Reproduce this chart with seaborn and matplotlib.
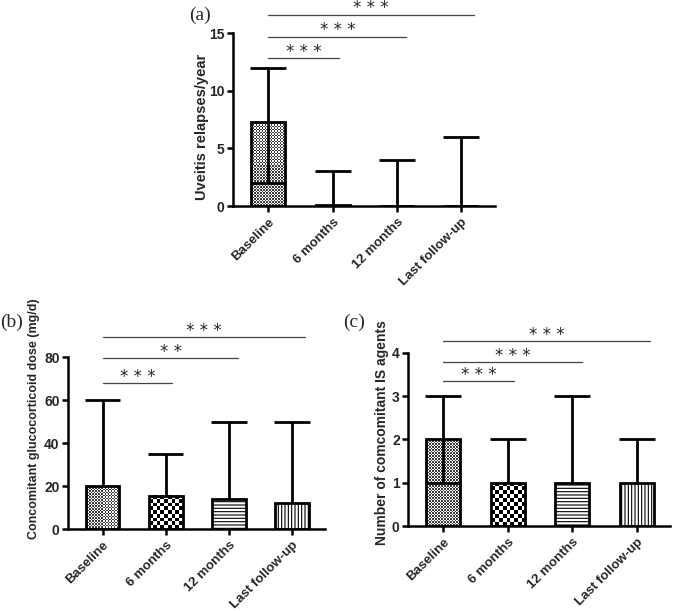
import numpy as np
import pandas as pd
import matplotlib
matplotlib.use("Agg")
import matplotlib.pyplot as plt
import seaborn as sns

categories = ["Baseline", "6 months", "12 months", "Last follow-up"]

# (a) uveitis relapses/year
relapse_mean = [7.3, 0.1, 0.0, 0.0]
relapse_low = [2, None, None, None]
relapse_high = [12, 3, 4, 6]

# (b) concomitant glucocorticoid dose (mg/d)
gc_mean = [20, 15.5, 13.8, 12]
gc_low = [None, None, None, None]
gc_high = [60, 35, 50, 50]

# (c) number of concomitant IS agents
is_mean = [2, 1, 1, 1]
is_low = [1, None, None, None]
is_high = [3, 2, 3, 2]

sig_stars_a = ["***", "***", "***"]
sig_stars_b = ["***", "**", "***"]
sig_stars_c = ["***", "***", "***"]

sns.set_theme(style="ticks")
plt.rcParams["font.family"] = ["Liberation Sans", "DejaVu Sans"]
plt.rcParams["hatch.linewidth"] = 0.8

fig = plt.figure(figsize=(6.74, 6.11), dpi=100)


def checker(ax, bar, cell_px, vmax):
    # fill a bar with a checkerboard clipped to its outline
    x0, y0, w, h = bar.get_x(), bar.get_y(), bar.get_width(), bar.get_height()
    if h <= 0:
        return
    p0 = ax.transData.transform((x0, y0))
    p1 = ax.transData.transform((x0 + w, y0 + h))
    nx = max(1, int(round(abs(p1[0] - p0[0]) / cell_px)))
    ny = max(1, int(round(abs(p1[1] - p0[1]) / cell_px)))
    img = np.indices((ny, nx)).sum(axis=0) % 2
    ax.imshow(img, cmap="gray_r", vmin=0, vmax=vmax, extent=(x0, x0 + w, y0, y0 + h),
              aspect="auto", interpolation="nearest", zorder=1.5, clip_path=bar)


def panel(rect, mean, low, high, ylim, yticks, ylabel, ylabel_size, ylabel_xy,
          sig_y, stars, label, label_xy, hatches):
    ax = fig.add_axes(rect)
    df = pd.DataFrame({"time": categories, "value": mean})
    sns.barplot(data=df, x="time", y="value", ax=ax, width=0.53, errorbar=None,
                color="white", edgecolor="black", linewidth=2)
    ax.set_xlim(-0.55, 3.52)
    ax.set_ylim(*ylim)
    ax.set_yticks(yticks)
    for i, bar in enumerate(ax.patches):
        bar.set_facecolor("none")
        bar.set_zorder(3)
        style = hatches[i]
        if style == "fine":
            checker(ax, bar, 1.5, 1.3)
        elif style == "coarse":
            checker(ax, bar, 3.8, 1.0)
        elif style:
            bar.set_hatch(style)
    xs = np.arange(len(categories))
    cap = 0.28
    for x, m, lo, hi in zip(xs, mean, low, high):
        ax.vlines(x, m, hi, color="black", lw=2, zorder=4)
        ax.hlines(hi, x - cap, x + cap, color="black", lw=2, zorder=4)
        if lo is not None:
            ax.vlines(x, lo, m, color="black", lw=2, zorder=4)
            ax.hlines(lo, x - cap, x + cap, color="black", lw=2, zorder=4)
    # significance brackets
    for k, (y, s) in enumerate(zip(sig_y, stars)):
        x_end = xs[k + 1] + 0.1 + 0.05 * k
        ax.plot([xs[0], x_end], [y, y], color="#444444", lw=0.9, clip_on=False)
        ax.annotate(" ".join(s), ((xs[0] + x_end) / 2, y), xytext=(0, 4.5),
                    textcoords="offset points", ha="center", va="center",
                    fontsize=12, color="#222222", family="DejaVu Sans",
                    annotation_clip=False)
    sns.despine(ax=ax)
    for sp in ["left", "bottom"]:
        ax.spines[sp].set_linewidth(1.8)
        ax.spines[sp].set_color("black")
    ax.tick_params(axis="both", width=1.8, length=4, color="black")
    ax.tick_params(axis="x", pad=3.5)
    ax.tick_params(axis="y", pad=2)
    ax.set_xticks(xs)
    ax.set_xticklabels(categories, rotation=45, ha="right", rotation_mode="anchor",
                       fontsize=9.5, fontweight="bold")
    for t in ax.get_yticklabels():
        t.set_fontsize(10)
        t.set_fontweight("bold")
    ax.set_xlabel("")
    ax.set_ylabel(ylabel, fontsize=ylabel_size, fontweight="bold")
    ax.yaxis.set_label_coords(*ylabel_xy)
    ax.yaxis.label.set_verticalalignment("center")
    fig.text(label_xy[0], label_xy[1], label, fontsize=14, family="Liberation Serif",
             ha="center", va="center")
    return ax


panel([0.3457, 0.6628, 0.388, 0.2831], relapse_mean, relapse_low, relapse_high,
      (0, 15), [0, 5, 10, 15], "Uveitis relapses/year", 10.5, (-0.12, 0.46),
      [12.8, 14.7, 16.6], sig_stars_a, "(a)", (200 / 674, 1 - 15 / 611),
      ["fine", None, None, None])

panel([0.1009, 0.1342, 0.381, 0.2815], gc_mean, gc_low, gc_high,
      (0, 80), [0, 20, 40, 60, 80], "Concomitant glucocorticoid dose (mg/d)", 9,
      (-0.132, 0.64), [67.9, 79.5, 89.3], sig_stars_b, "(b)", (12 / 674, 1 - 322 / 611),
      ["fine", "coarse", "-----", "|||||"])

panel([0.6053, 0.1391, 0.389, 0.2832], is_mean, is_low, is_high,
      (0, 4), [0, 1, 2, 3, 4], "Number of comcomitant IS agents", 10,
      (-0.099, 0.54), [3.35, 3.79, 4.28], sig_stars_c, "(c)", (354 / 674, 1 - 322 / 611),
      ["fine", "coarse", "-----", "|||||"])

fig.savefig("out.png", dpi=100, facecolor="white")
